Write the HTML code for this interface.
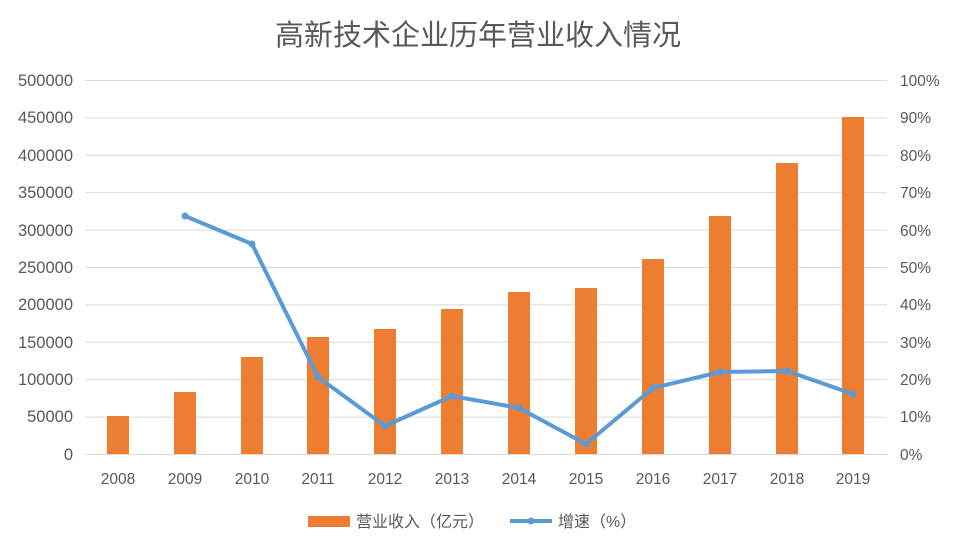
<!DOCTYPE html>
<html><head><meta charset="utf-8"><style>
html,body{margin:0;padding:0;background:#fff;}
svg{display:block;}
text{font-family:"Liberation Sans","Noto Sans CJK SC",sans-serif;fill:#595959;}
</style></head><body>
<svg width="957" height="552" viewBox="0 0 957 552" xmlns="http://www.w3.org/2000/svg">
<rect width="957" height="552" fill="#fff"/>
<text x="478" y="45" font-size="29" text-anchor="middle" fill="#595959">高新技术企业历年营业收入情况</text>
<g stroke="#d9d9d9" stroke-width="1">
<line x1="85" x2="887" y1="80.5" y2="80.5"/>
<line x1="85" x2="887" y1="117.9" y2="117.9"/>
<line x1="85" x2="887" y1="155.3" y2="155.3"/>
<line x1="85" x2="887" y1="192.7" y2="192.7"/>
<line x1="85" x2="887" y1="230.1" y2="230.1"/>
<line x1="85" x2="887" y1="267.5" y2="267.5"/>
<line x1="85" x2="887" y1="304.9" y2="304.9"/>
<line x1="85" x2="887" y1="342.3" y2="342.3"/>
<line x1="85" x2="887" y1="379.7" y2="379.7"/>
<line x1="85" x2="887" y1="417.1" y2="417.1"/>
<line x1="85" x2="887" y1="454.5" y2="454.5"/>
</g>
<g font-size="16.5" text-anchor="end">
<text x="73" y="86">500000</text><text x="73" y="123">450000</text><text x="73" y="161">400000</text>
<text x="73" y="198">350000</text><text x="73" y="236">300000</text><text x="73" y="273">250000</text>
<text x="73" y="310">200000</text><text x="73" y="348">150000</text><text x="73" y="385">100000</text>
<text x="73" y="422">50000</text><text x="73" y="460">0</text>
</g>
<g font-size="15.5" text-anchor="start">
<text x="900" y="86">100%</text><text x="900" y="123">90%</text><text x="900" y="161">80%</text>
<text x="900" y="198">70%</text><text x="900" y="236">60%</text><text x="900" y="273">50%</text>
<text x="900" y="310">40%</text><text x="900" y="348">30%</text><text x="900" y="385">20%</text>
<text x="900" y="422">10%</text><text x="900" y="460">0%</text>
</g>
<g fill="#ed7d31">
<rect x="107" y="416" width="22" height="38"/>
<rect x="174" y="392" width="22" height="62"/>
<rect x="241" y="357" width="22" height="97"/>
<rect x="307" y="337" width="22" height="117"/>
<rect x="374" y="329" width="22" height="125"/>
<rect x="441" y="309" width="22" height="145"/>
<rect x="508" y="292" width="22" height="162"/>
<rect x="575" y="288" width="22" height="166"/>
<rect x="642" y="259" width="22" height="195"/>
<rect x="709" y="216" width="22" height="238"/>
<rect x="776" y="163" width="22" height="291"/>
<rect x="842" y="117" width="22" height="337"/>
</g>
<g font-size="15.5" text-anchor="middle">
<text x="118" y="484">2008</text><text x="185" y="484">2009</text><text x="252" y="484">2010</text>
<text x="318" y="484">2011</text><text x="385" y="484">2012</text><text x="452" y="484">2013</text>
<text x="519" y="484">2014</text><text x="586" y="484">2015</text><text x="653" y="484">2016</text>
<text x="720" y="484">2017</text><text x="787" y="484">2018</text><text x="853" y="484">2019</text>
</g>
<polyline fill="none" stroke="#5b9bd5" stroke-width="4" stroke-linejoin="round" stroke-linecap="round"
points="185,216 252,244 318,377 385,426 452,396 519,408 586,444 653,388 720,372 787,371 853,394"/>
<g fill="#5b9bd5">
<circle cx="185" cy="216" r="3.5"/><circle cx="252" cy="244" r="3.5"/><circle cx="318" cy="377" r="3.5"/>
<circle cx="385" cy="426" r="3.5"/><circle cx="452" cy="396" r="3.5"/><circle cx="519" cy="408" r="3.5"/>
<circle cx="586" cy="444" r="3.5"/><circle cx="653" cy="388" r="3.5"/><circle cx="720" cy="372" r="3.5"/>
<circle cx="787" cy="371" r="3.5"/><circle cx="853" cy="394" r="3.5"/>
</g>
<rect x="308" y="516" width="42" height="11" fill="#ed7d31"/>
<text x="356" y="527" font-size="16">营业收入（亿元）</text>
<line x1="510" x2="552" y1="521" y2="521" stroke="#5b9bd5" stroke-width="4"/>
<circle cx="531" cy="521" r="3.5" fill="#5b9bd5"/>
<text x="558" y="527" font-size="16">增速（%）</text>
</svg>
</body></html>
